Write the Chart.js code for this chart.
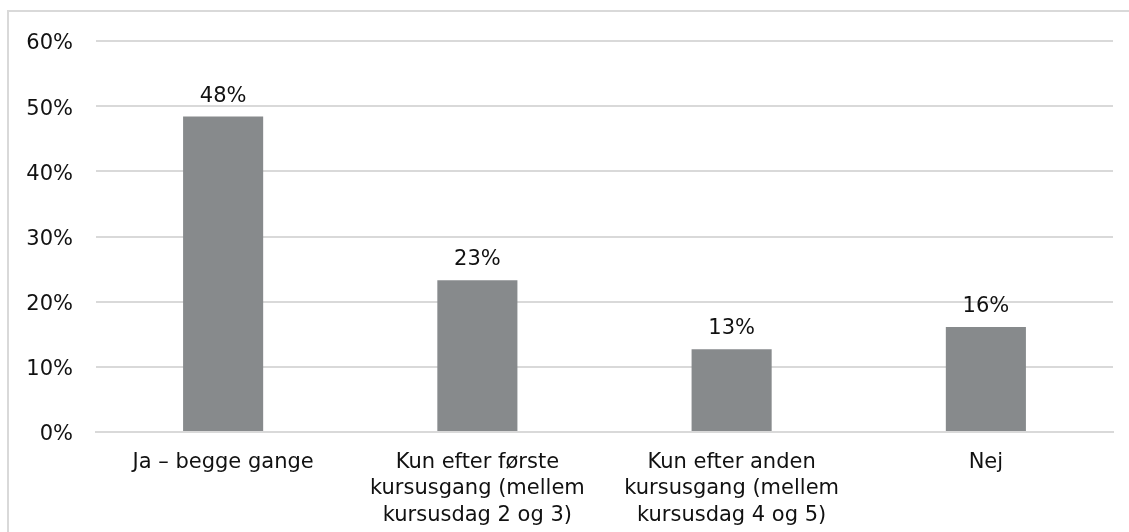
<!DOCTYPE html>
<html>
<head>
<meta charset="utf-8">
<script src="https://cdn.jsdelivr.net/npm/chart.js@4"></script>
<style>
html,body{margin:0;padding:0;background:#fff;overflow:hidden;}
#wrap{position:relative;width:1129px;height:532px;overflow:hidden;}
#frame{position:absolute;left:7px;top:10px;width:1200px;height:600px;border-top:2px solid #d9d9d9;border-left:2px solid #d9d9d9;}
canvas{position:absolute;left:0;top:0;}
</style>
</head>
<body>
<div id="wrap">
<div id="frame"></div>
<canvas id="chart" width="1129" height="532"></canvas>
</div>
<script>
const categories=[
    "Ja – begge gange",
    ["Kun efter første","kursusgang (mellem","kursusdag 2 og 3)"],
    ["Kun efter anden","kursusgang (mellem","kursusdag 4 og 5)"],
    "Nej"
];
const values=[48.4,23.3,12.7,16.1];
const yTicks=[0,10,20,30,40,50,60];

const FONT="'DejaVu Sans', Verdana, sans-serif";

// value labels above bars
const barLabels={
    id:'barLabels',
    afterDatasetsDraw(chart){
        const ctx=chart.ctx, meta=chart.getDatasetMeta(0);
        ctx.save();
        ctx.font="21px "+FONT; ctx.fillStyle="#111"; ctx.textAlign="center"; ctx.textBaseline="alphabetic";
        meta.data.forEach((bar,i)=>{ctx.fillText(Math.round(values[i])+"%",bar.x,bar.y-15);});
        ctx.restore();
    }
};

new Chart(document.getElementById('chart').getContext('2d'),{
    type:'bar',
    data:{labels:categories,datasets:[{data:values,backgroundColor:'#878a8c',barPercentage:0.315,categoryPercentage:1}]},
    options:{
        responsive:false,animation:false,
        layout:{padding:{left:0,right:16,top:41,bottom:0}},
        plugins:{legend:{display:false},tooltip:{enabled:false}},
        scales:{
            x:{
                grid:{display:false,drawTicks:false},
                border:{display:true,color:'#d9d9d9',width:2},
                ticks:{font:{family:FONT,size:21,lineHeight:1.27},color:'#111',padding:17,maxRotation:0,autoSkip:false},
                afterFit(s){s.height=100;}
            },
            y:{
                min:0,max:60,
                afterBuildTicks(s){s.ticks=yTicks.map(v=>({value:v}));},
                grid:{color:'#d9d9d9',lineWidth:2,drawTicks:false},
                border:{display:false},
                ticks:{font:{family:FONT,size:21},color:'#111',padding:23,labelOffset:3,callback:v=>v+'%'},
                afterFit(s){s.width=96;}
            }
        }
    },
    plugins:[barLabels]
});
</script>
</body>
</html>
